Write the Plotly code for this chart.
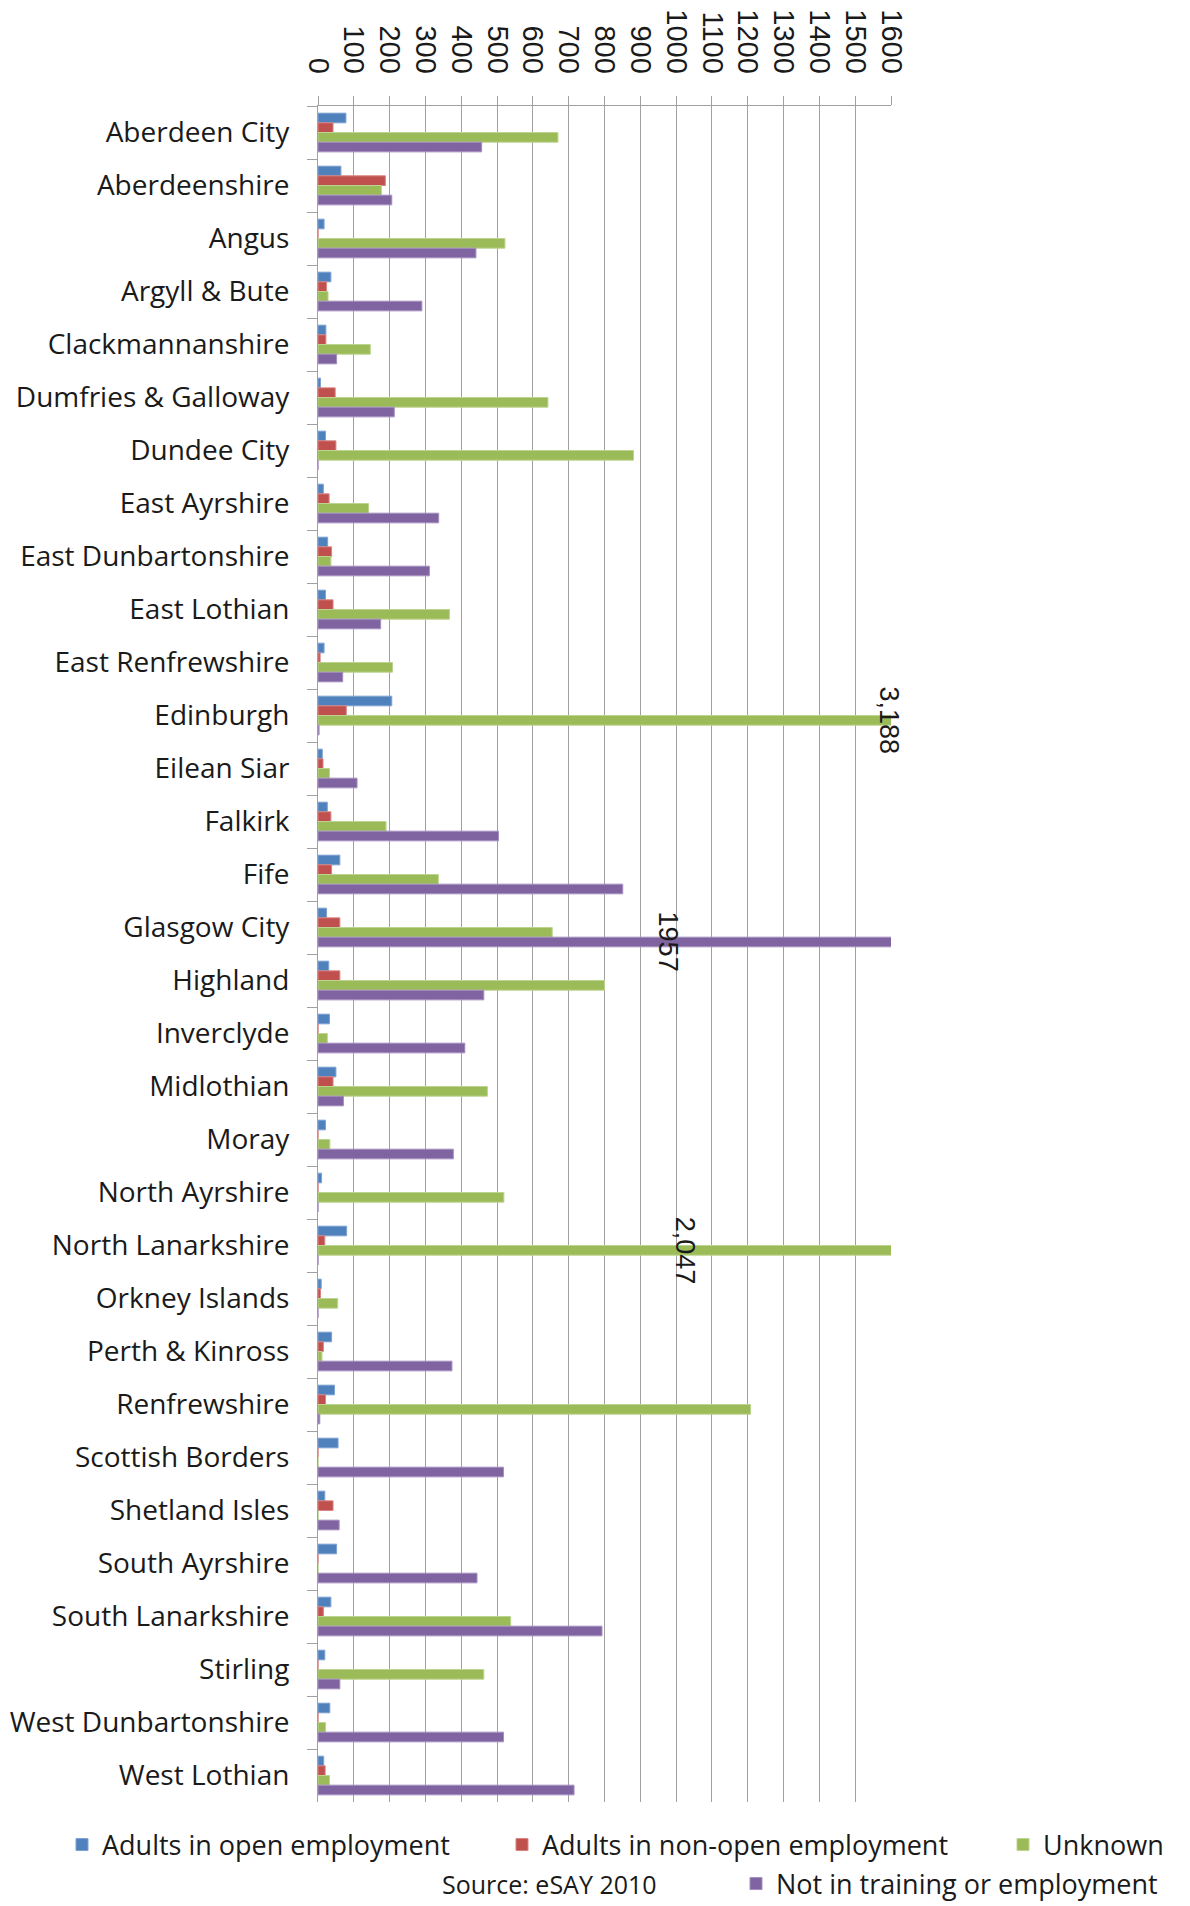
import plotly.graph_objects as go

categories = ["Aberdeen City", "Aberdeenshire", "Angus", "Argyll & Bute", "Clackmannanshire",
              "Dumfries & Galloway", "Dundee City", "East Ayrshire", "East Dunbartonshire",
              "East Lothian", "East Renfrewshire", "Edinburgh", "Eilean Siar", "Falkirk", "Fife",
              "Glasgow City", "Highland", "Inverclyde", "Midlothian", "Moray", "North Ayrshire",
              "North Lanarkshire", "Orkney Islands", "Perth & Kinross", "Renfrewshire",
              "Scottish Borders", "Shetland Isles", "South Ayrshire", "South Lanarkshire",
              "Stirling", "West Dunbartonshire", "West Lothian"]

open_emp = [78, 64, 17, 36, 22, 7, 21, 15, 27, 21, 17, 206, 12, 26, 61, 24, 30, 32, 50, 21, 10,
            80, 9, 38, 46, 56, 19, 52, 36, 19, 33, 16]
non_open_emp = [42, 188, 0, 24, 22, 48, 50, 31, 38, 42, 6, 79, 14, 36, 38, 61, 61, 0, 42, 0, 0,
                19, 7, 15, 21, 0, 42, 0, 15, 0, 0, 20]
unknown = [670, 177, 522, 28, 146, 642, 881, 141, 36, 367, 208, 3188, 32, 190, 336, 654, 800, 26,
           473, 33, 519, 2047, 55, 11, 1208, 0, 0, 0, 538, 463, 21, 32]
not_in_training = [457, 206, 441, 290, 52, 213, 0, 337, 311, 175, 69, 3, 109, 504, 851, 1957, 463,
                   410, 71, 378, 0, 0, 0, 374, 5, 518, 59, 444, 793, 61, 518, 715]

series_names = ["Adults in open employment", "Adults in non-open employment", "Unknown",
                "Not in training or employment"]
series_values = [open_emp, non_open_emp, unknown, not_in_training]
colors = ["#4F81BD", "#C0504D", "#9BBB59", "#8064A2"]
edge_colors = ["#7FA3D2", "#D88583", "#BCD48E", "#A58FC0"]
x_ticks = list(range(0, 1601, 100))

# labels shown for bars exceeding the axis: (category, series index, label)
overflow_labels = [("Edinburgh", 2, "3,188"), ("Glasgow City", 3, "1957"),
                   ("North Lanarkshire", 2, "2,047")]

fig = go.Figure()
legend_ids = ["legend", "legend2", "legend3", "legend4"]
for name, vals, col, ec, lg in zip(series_names, series_values, colors, edge_colors, legend_ids):
    fig.add_trace(go.Bar(y=categories, x=vals, name=name, orientation="h",
                         marker=dict(color=col, line=dict(color=ec, width=1)),
                         legend=lg, showlegend=True))

W, H = 1190, 1906
L, R = 318, 891
T, B = 106, 1802
pw = R - L
ph = B - T

def cx(p):
    return p / W

def cy(p):
    return 1 - p / H

text_font = "'Open Sans', Lato, sans-serif"
num_font = "'Liberation Sans', Arial, sans-serif"
legend_font = dict(family=text_font, size=27, color="#1a1a1a")
leg_common = dict(orientation="h", xanchor="left", yanchor="middle", xref="container",
                  yref="container", bgcolor="rgba(0,0,0,0)", font=legend_font, itemclick=False)

row1, row2 = 1845, 1884
fig.update_layout(
    width=W, height=H, showlegend=True,
    margin=dict(l=L, r=W - R, t=T, b=H - B, autoexpand=False),
    paper_bgcolor="white", plot_bgcolor="white",
    barmode="group", bargap=0.27, bargroupgap=0,
    legend=dict(x=cx(62), y=cy(row1), **leg_common),
    legend2=dict(x=cx(502), y=cy(row1), **leg_common),
    legend3=dict(x=cx(1003), y=cy(row1), **leg_common),
    legend4=dict(x=cx(736), y=cy(row2), **leg_common),
    xaxis=dict(side="top", range=[0, 1600], tickvals=x_ticks, ticktext=[str(v) for v in x_ticks],
               tickangle=90, showgrid=True, gridcolor="#A0A0A0", gridwidth=1,
               showline=True, linecolor="#A0A0A0", linewidth=1,
               ticks="outside", ticklen=9, tickcolor="#A0A0A0", ticklabelstandoff=12,
               tickfont=dict(family=num_font, size=29, color="#1a1a1a"),
               zeroline=False, fixedrange=True),
    yaxis=dict(autorange="reversed", showline=True, linecolor="#A0A0A0", linewidth=1,
               ticks="outside", ticklen=10, tickcolor="#A0A0A0", tickson="boundaries",
               ticklabelstandoff=22,
               tickfont=dict(family=text_font, size=28, color="#1a1a1a"),
               showgrid=False, fixedrange=True),
)

# bar offsets within a group (px): series k centred at (k-1.5)*bar_h below category centre
group_px = ph / len(categories) * (1 - 0.27)
bar_h = group_px / 4
val_lookup = dict(zip(categories, range(len(categories))))
for cat, k, lab in overflow_labels:
    v = series_values[k][val_lookup[cat]]
    fig.add_annotation(x=v / 2, y=cat, xref="x", yref="y", text=lab, showarrow=False,
                       textangle=90, yshift=-(k - 1.5) * bar_h,
                       font=dict(family=num_font, size=27, color="#1a1a1a"))

fig.add_annotation(x=(440 - L) / pw, y=(B - row2) / ph, xref="paper", yref="paper",
                   xanchor="left", yanchor="middle", text="Source: eSAY 2010", showarrow=False,
                   font=dict(family=text_font, size=25, color="#1a1a1a"))

fig.write_html("out.html")
